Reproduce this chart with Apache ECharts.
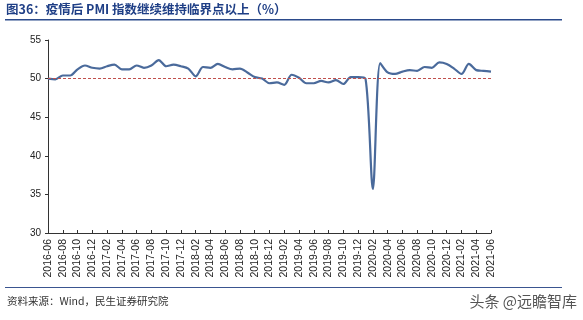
<!DOCTYPE html>
<html>
<head>
<meta charset="utf-8">
<script src="https://cdn.jsdelivr.net/npm/echarts@6/dist/echarts.min.js"></script>
<style>
    html, body { margin: 0; padding: 0; background: #fff; }
    #chart { width: 583px; height: 320px; }
</style>
</head>
<body>
<div id="chart"></div>
<script>
    // 月份 2016-06 ~ 2021-06
    var months = [
        '2016-06', '2016-07', '2016-08', '2016-09', '2016-10', '2016-11', '2016-12',
        '2017-01', '2017-02', '2017-03', '2017-04', '2017-05', '2017-06', '2017-07', '2017-08', '2017-09', '2017-10', '2017-11', '2017-12',
        '2018-01', '2018-02', '2018-03', '2018-04', '2018-05', '2018-06', '2018-07', '2018-08', '2018-09', '2018-10', '2018-11', '2018-12',
        '2019-01', '2019-02', '2019-03', '2019-04', '2019-05', '2019-06', '2019-07', '2019-08', '2019-09', '2019-10', '2019-11', '2019-12',
        '2020-01', '2020-02', '2020-03', '2020-04', '2020-05', '2020-06', '2020-07', '2020-08', '2020-09', '2020-10', '2020-11', '2020-12',
        '2021-01', '2021-02', '2021-03', '2021-04', '2021-05', '2021-06'
    ]
    // 制造业PMI
    var pmi = [
        50.0, 49.9, 50.4, 50.4, 51.2, 51.7, 51.4,
        51.3, 51.6, 51.8, 51.2, 51.2, 51.7, 51.4, 51.7, 52.4, 51.6, 51.8, 51.6,
        51.3, 50.3, 51.5, 51.4, 51.9, 51.5, 51.2, 51.3, 50.8, 50.2, 50.0, 49.4,
        49.5, 49.2, 50.5, 50.1, 49.4, 49.4, 49.7, 49.5, 49.8, 49.3, 50.2, 50.2,
        50.0, 35.7, 52.0, 50.8, 50.6, 50.9, 51.1, 51.0, 51.5, 51.4, 52.1, 51.9,
        51.3, 50.6, 51.9, 51.1, 51.0, 50.9
    ]
    var threshold = 50
    var titleText = '图36：疫情后 PMI 指数继续维持临界点以上（%）'
    var sourceText = '资料来源：Wind，民生证券研究院'
    var markText = '头条 @远瞻智库'

    var myChart = echarts.init(document.getElementById('chart'))
    var option = {
        animation: false,
        grid: {
            left: 48,
            right: 92,
            top: 40,
            bottom: 87
        },
        xAxis: {
            type: 'category',
            boundaryGap: false,
            data: months,
            axisLine: {lineStyle: {color: '#333', width: 1}},
            axisTick: {show: true, inside: true, length: 3, interval: 1, lineStyle: {color: '#333'}},
            axisLabel: {
                interval: 1,
                rotate: 90,
                fontSize: 10.5,
                fontFamily: 'Arial, Liberation Sans, sans-serif',
                color: '#222',
                margin: 6
            },
            splitLine: {show: false}
        },
        yAxis: {
            type: 'value',
            min: 30,
            max: 55,
            interval: 5,
            axisLine: {show: true, lineStyle: {color: '#333', width: 1}},
            axisTick: {show: true, length: 3, lineStyle: {color: '#333'}},
            axisLabel: {
                fontSize: 10,
                fontFamily: 'Arial, Liberation Sans, sans-serif',
                color: '#222',
                margin: 7
            },
            splitLine: {show: false}
        },
        series: [
            {
                name: 'PMI',
                type: 'line',
                data: pmi,
                smooth: 0.3,
                symbol: 'none',
                lineStyle: {color: '#4a6a9b', width: 2.2},
                markLine: {
                    silent: true,
                    symbol: 'none',
                    label: {show: false},
                    lineStyle: {color: '#c0504d', type: [3, 2], width: 1},
                    data: [{yAxis: threshold}]
                }
            }
        ],
        graphic: [
            {
                type: 'text', left: 6, top: 3,
                style: {
                    text: titleText,
                    fill: '#1f3f86',
                    font: 'bold 12.5px "Noto Sans CJK SC", serif'
                }
            },
            {
                type: 'rect', left: 5, top: 19,
                shape: {width: 557, height: 1.5},
                style: {fill: '#2b4a8b'}
            },
            {
                type: 'rect', left: 5, top: 287,
                shape: {width: 557, height: 1},
                style: {fill: '#3a5590'}
            },
            {
                type: 'text', left: 7, top: 296,
                style: {
                    text: sourceText,
                    fill: '#333',
                    font: '10.5px "Noto Sans CJK SC", serif'
                }
            },
            {
                type: 'text', right: 6, top: 294,
                style: {
                    text: markText,
                    fill: '#555',
                    font: '15px "Noto Sans CJK SC", sans-serif'
                }
            }
        ]
    }
    myChart.setOption(option)
</script>
</body>
</html>
